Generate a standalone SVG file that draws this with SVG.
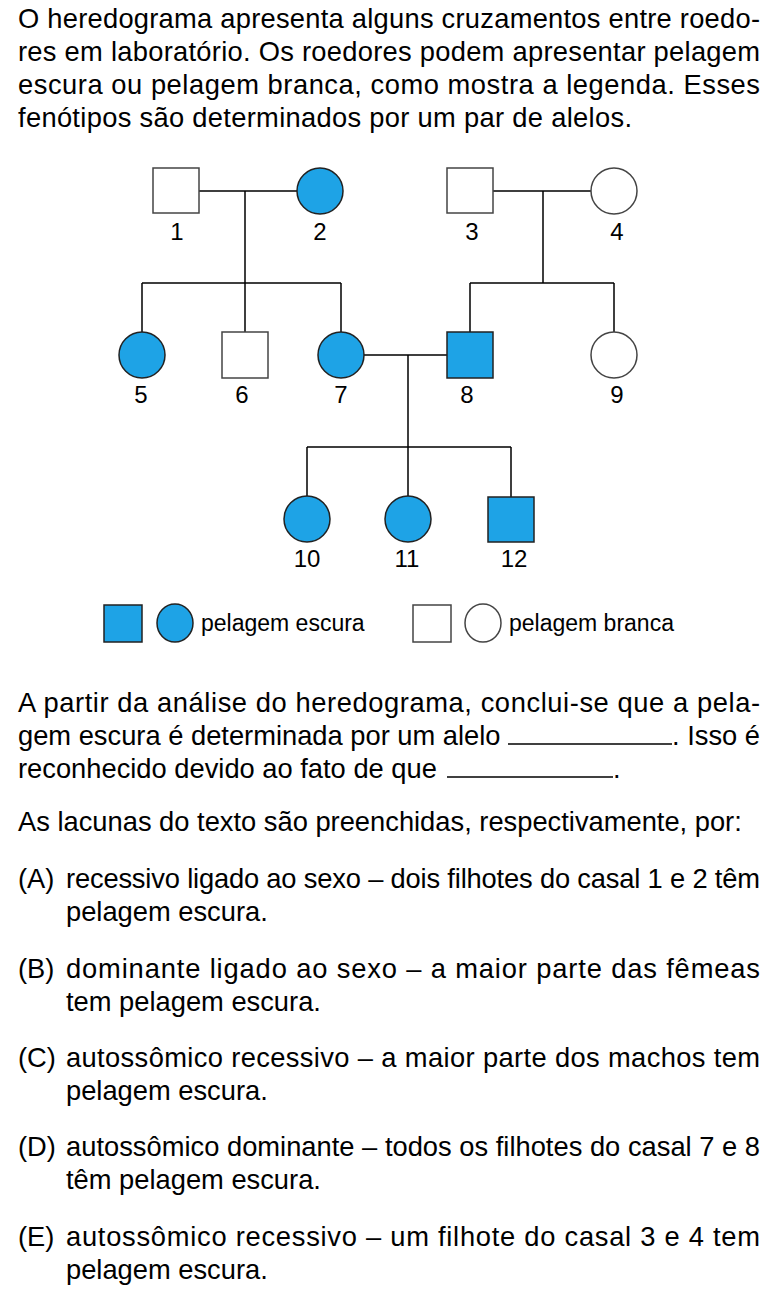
<svg xmlns="http://www.w3.org/2000/svg" width="778" height="1316" viewBox="0 0 778 1316">
<style>
.t{font-family:"Liberation Sans",Arial,sans-serif;font-size:27.3px;fill:#000}
.num{font-family:"Liberation Sans",Arial,sans-serif;font-size:24px;fill:#000;text-anchor:middle}
.lg{font-family:"Liberation Sans",Arial,sans-serif;font-size:23px;fill:#000}
.dark{fill:#1ea3e6;stroke:#222;stroke-width:1.5}
.light{fill:#fff;stroke:#444;stroke-width:1.5}
.ln{stroke:#000;stroke-width:1.5;fill:none}
</style>
<rect width="778" height="1316" fill="#fff"/>
<g id="intro">
<text class="t" x="18" y="28" textLength="742" lengthAdjust="spacing">O heredograma apresenta alguns cruzamentos entre roedo-</text>
<text class="t" x="18" y="61" textLength="742" lengthAdjust="spacing">res em laboratório. Os roedores podem apresentar pelagem</text>
<text class="t" x="18" y="94" textLength="742" lengthAdjust="spacing">escura ou pelagem branca, como mostra a legenda. Esses</text>
<text class="t" x="18" y="127" textLength="614" lengthAdjust="spacing">fenótipos são determinados por um par de alelos.</text>
</g>
<g id="connectors">
<path class="ln" d="M199 191H297M245 191V283M142 283H341M142 283V332M245 283V332M341 283V332"/>
<path class="ln" d="M493 191H591M543 191V283M470 283H614M470 283V332M614 283V332"/>
<path class="ln" d="M364 355H447M408 355V447M307 447H511M307 447V496M408 447V496M511 447V497"/>
</g>
<g id="n1"><rect class="light" x="153" y="168" width="46" height="45"/><text class="num" x="177" y="240">1</text></g>
<g id="n2"><circle class="dark" cx="320" cy="191" r="23"/><text class="num" x="320" y="240">2</text></g>
<g id="n3"><rect class="light" x="447" y="168" width="46" height="45"/><text class="num" x="472" y="240">3</text></g>
<g id="n4"><circle class="light" cx="614" cy="191" r="23"/><text class="num" x="617" y="240">4</text></g>
<g id="n5"><circle class="dark" cx="142" cy="355" r="23"/><text class="num" x="141" y="403">5</text></g>
<g id="n6"><rect class="light" x="222" y="332" width="46" height="46"/><text class="num" x="242" y="403">6</text></g>
<g id="n7"><circle class="dark" cx="341" cy="355" r="23"/><text class="num" x="341" y="403">7</text></g>
<g id="n8"><rect class="dark" x="447" y="332" width="46" height="46"/><text class="num" x="467" y="403">8</text></g>
<g id="n9"><circle class="light" cx="614" cy="355" r="23"/><text class="num" x="617" y="403">9</text></g>
<g id="n10"><circle class="dark" cx="307" cy="519" r="23"/><text class="num" x="307" y="567">10</text></g>
<g id="n11"><circle class="dark" cx="408" cy="519" r="23"/><text class="num" x="407" y="567">11</text></g>
<g id="n12"><rect class="dark" x="488" y="497" width="46" height="45"/><text class="num" x="514" y="567">12</text></g>
<g id="legend">
<rect class="dark" x="104" y="605" width="38" height="37" stroke="none"/>
<ellipse class="dark" cx="175" cy="623" rx="18" ry="19"/>
<text class="lg" x="201" y="631">pelagem escura</text>
<rect class="light" x="413" y="605" width="38" height="37"/>
<ellipse class="light" cx="483" cy="623" rx="18" ry="19"/>
<text class="lg" x="509" y="631">pelagem branca</text>
</g>
<g id="question">
<text class="t" x="18" y="712" textLength="742" lengthAdjust="spacing">A partir da análise do heredograma, conclui-se que a pela-</text>
<text class="t" x="18" y="745">gem escura é determinada por um alelo</text>
<line class="ln" x1="508" y1="744" x2="672" y2="744"/>
<text class="t" x="760" y="745" text-anchor="end">. Isso é</text>
<text class="t" x="18" y="778">reconhecido devido ao fato de que</text>
<line class="ln" x1="447" y1="777" x2="613" y2="777"/>
<text class="t" x="613" y="778">.</text>
<text class="t" x="18" y="831">As lacunas do texto são preenchidas, respectivamente, por:</text>
</g>
<g id="options">
<text class="t" x="18" y="888">(A)</text>
<text class="t" x="66" y="888" textLength="694" lengthAdjust="spacing">recessivo ligado ao sexo – dois filhotes do casal 1 e 2 têm</text>
<text class="t" x="66" y="921">pelagem escura.</text>
<text class="t" x="18" y="978">(B)</text>
<text class="t" x="66" y="978" textLength="694" lengthAdjust="spacing">dominante ligado ao sexo – a maior parte das fêmeas</text>
<text class="t" x="66" y="1011">tem pelagem escura.</text>
<text class="t" x="18" y="1067">(C)</text>
<text class="t" x="66" y="1067" textLength="694" lengthAdjust="spacing">autossômico recessivo – a maior parte dos machos tem</text>
<text class="t" x="66" y="1100">pelagem escura.</text>
<text class="t" x="18" y="1156">(D)</text>
<text class="t" x="66" y="1156" textLength="694" lengthAdjust="spacing">autossômico dominante – todos os filhotes do casal 7 e 8</text>
<text class="t" x="66" y="1189">têm pelagem escura.</text>
<text class="t" x="18" y="1246">(E)</text>
<text class="t" x="66" y="1246" textLength="694" lengthAdjust="spacing">autossômico recessivo – um filhote do casal 3 e 4 tem</text>
<text class="t" x="66" y="1279">pelagem escura.</text>
</g>
</svg>
